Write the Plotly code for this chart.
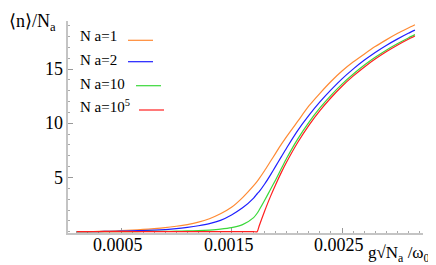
import plotly.graph_objects as go

# ---- data ----
coupling = [0.0001, 0.0002, 0.0003, 0.0004, 0.0005, 0.0006, 0.0007, 0.0008, 0.0009,
            0.0010, 0.0011, 0.0012, 0.0013, 0.0014, 0.0015, 0.0016, 0.0017,
            0.001732, 0.00175, 0.0018, 0.00185, 0.0019, 0.00195, 0.0020,
            0.0021, 0.0022, 0.0023, 0.0024, 0.0025, 0.0026, 0.0027, 0.0028,
            0.0029, 0.0030, 0.0031, 0.00316]

n_na1 = [0.00, 0.01, 0.03, 0.06, 0.10, 0.15, 0.21, 0.28, 0.37,
         0.50, 0.66, 0.88, 1.20, 1.65, 2.25, 3.15, 4.25,
         4.65, 4.90, 5.65, 6.45, 7.25, 8.05, 8.80,
         10.20, 11.60, 12.77, 13.86, 14.82, 15.65, 16.38, 17.08,
         17.70, 18.28, 18.80, 19.10]

n_na2 = [0.00, 0.005, 0.015, 0.03, 0.05, 0.08, 0.11, 0.15, 0.20,
         0.28, 0.40, 0.55, 0.75, 1.05, 1.55, 2.20, 3.10,
         3.50, 3.70, 4.40, 5.20, 6.05, 6.90, 7.75,
         9.35, 10.73, 11.97, 13.08, 14.10, 15.00, 15.81, 16.54,
         17.19, 17.77, 18.31, 18.60]

n_na10 = [0.00, 0.00, 0.002, 0.005, 0.008, 0.012, 0.018, 0.025, 0.035,
          0.05, 0.07, 0.10, 0.15, 0.23, 0.37, 0.65, 1.30,
          1.70, 2.00, 2.90, 3.85, 4.80, 5.80, 6.80,
          8.57, 10.09, 11.42, 12.58, 13.62, 14.53, 15.35, 16.09,
          16.75, 17.34, 17.88, 18.18]

n_na1e5 = [0.0, 0.0, 0.0, 0.0, 0.0, 0.0, 0.0, 0.0, 0.0,
           0.0, 0.0, 0.0, 0.0, 0.0, 0.0, 0.0, 0.0,
           0.0, 0.53, 1.91, 3.19, 4.36, 5.45, 6.45,
           8.25, 9.81, 11.17, 12.36, 13.42, 14.35, 15.18, 15.93,
           16.60, 17.20, 17.75, 18.05]

series_names = ["N a=1", "N a=2", "N a=10", "N a=10<sup>5</sup>"]
series_values = [n_na1, n_na2, n_na10, n_na1e5]
series_colors = ["#ff8a33", "#1f1fff", "#3ad83a", "#ff1f1f"]

x_tick_vals = [0.0005, 0.0015, 0.0025]
x_tick_text = ["0.0005", "0.0015", "0.0025"]
y_tick_vals = [5, 10, 15]
y_tick_text = ["5", "10", "15"]

# ---- layout geometry ----
W, H = 436, 265
ML, MR, MT, MB = 60, 21, 13, 40
PW, PH = W - ML - MR, H - MT - MB


def px(xp):
    return (xp - ML) / PW


def py(yp):
    return (H - MB - yp) / PH


FONT = "Liberation Serif, Times New Roman, serif"
FS_TICK = 18
FS_TEXT = 15

fig = go.Figure()
for name, vals, col in zip(series_names, series_values, series_colors):
    fig.add_trace(go.Scatter(x=coupling, y=vals, mode="lines", name=name,
                             line=dict(color=col, width=1.2, shape="spline", smoothing=0.6),
                             showlegend=False, hoverinfo="skip"))

axis_col = "#c4c4c4"
fig.update_layout(
    width=W, height=H,
    margin=dict(l=ML, r=MR, t=MT, b=MB, pad=0),
    paper_bgcolor="white", plot_bgcolor="white",
    font=dict(family=FONT, size=FS_TEXT, color="black"),
    xaxis=dict(range=[0.00002, 0.003233], showgrid=False, zeroline=False,
               showline=True, linecolor=axis_col, linewidth=1.5,
               tickmode="array", tickvals=x_tick_vals, showticklabels=False,
               ticks="inside", ticklen=5, tickcolor="#999999", tickwidth=1,
               minor=dict(tickmode="linear", tick0=0, dtick=0.0001, ticks="inside",
                          ticklen=2.5, tickcolor="#aaaaaa", tickwidth=1),
               layer="below traces"),
    yaxis=dict(range=[-0.12, 19.44], showgrid=False, zeroline=False,
               showline=True, linecolor=axis_col, linewidth=1.5,
               tickmode="array", tickvals=y_tick_vals, showticklabels=False,
               ticks="inside", ticklen=5, tickcolor="#999999", tickwidth=1,
               minor=dict(tickmode="linear", tick0=0, dtick=1, ticks="inside",
                          ticklen=2.5, tickcolor="#aaaaaa", tickwidth=1),
               layer="below traces"),
)

annotations = []
# tick labels (placed on the axis scales)
for v, t in zip(x_tick_vals, x_tick_text):
    annotations.append(dict(text=t, x=v, xref="x", y=py(237), yref="paper",
                            xanchor="center", yanchor="middle", xshift=-3, font_size=FS_TICK))
for v, t in zip(y_tick_vals, y_tick_text):
    annotations.append(dict(text=t, x=px(56), xref="paper", y=v, yref="y",
                            xanchor="right", yanchor="middle", align="right", font_size=FS_TICK))

annotations.append(dict(text="⟨n⟩/N<sub>a</sub>", x=px(0), y=py(14), xref="paper", yref="paper",
                        xanchor="left", yanchor="middle", align="left", font_size=FS_TICK))
annotations.append(dict(text="g√N<sub>a</sub> /ω<sub>0</sub>",
                        x=px(423), y=py(246), xref="paper", yref="paper",
                        xanchor="right", yanchor="middle", align="right", font_size=17))
label_y = [28, 52, 76, 98]
for name, ly in zip(series_names, label_y):
    annotations.append(dict(text=name, x=px(71), y=py(ly), xref="paper", yref="paper",
                            xanchor="left", yanchor="middle", align="left", font_size=FS_TEXT))

for a in annotations:
    fs = a.pop("font_size")
    a.update(showarrow=False, borderpad=0,
             font=dict(family=FONT, size=fs, color="black"))
fig.update_layout(annotations=annotations)

swatches = [(120, 145, 32.3), (120, 145, 53.7), (128, 153, 77.7), (131, 156, 102)]
for (x0, x1, yy), col in zip(swatches, series_colors):
    fig.add_shape(type="line", xref="paper", yref="paper",
                  x0=px(x0), x1=px(x1), y0=py(yy), y1=py(yy),
                  line=dict(color=col, width=1.2))

fig.write_html("out.html")
